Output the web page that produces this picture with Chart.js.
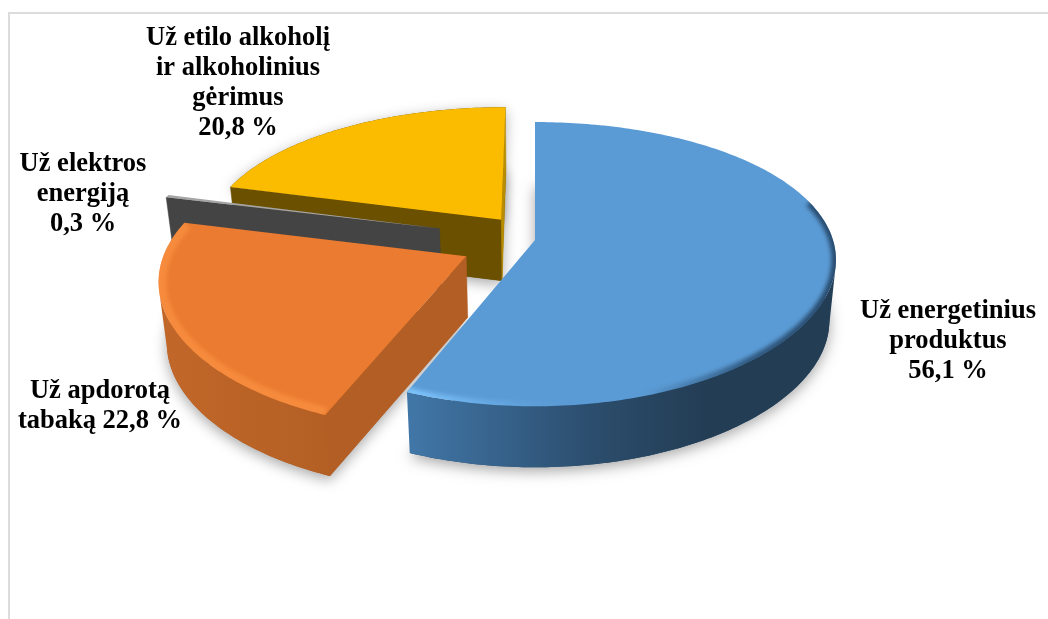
<!doctype html>
<html>
<head>
<meta charset="utf-8">
<script src="https://cdn.jsdelivr.net/npm/chart.js@4/dist/chart.umd.min.js"></script>
<style>
	html, body { margin: 0; padding: 0; background: #fff; overflow: hidden; }
	#frame { position: absolute; left: 8px; top: 12px; right: 0; bottom: 0; border-top: 2px solid #dcdcdc; border-left: 2px solid #dcdcdc; }
	#pie { position: absolute; left: 0; top: 0; }
</style>
</head>
<body>
<div id="frame"></div>
<canvas id="pie" width="1048" height="619"></canvas>
<script>
// excise shares, going clockwise from 12 o'clock
const categories = ['Už energetinius produktus', 'Už apdorotą tabaką', 'Už elektros energiją', 'Už etilo alkoholį ir alkoholinius gėrimus'];
const values = [56.1, 22.8, 0.3, 20.8];

// how far each slice is pulled out, as a part of the radius
const explode = [0, 0.255, 0.335, 0.19];

const topColors = ['#5b9bd5', '#ea7b30', '#a5a5a5', '#fbbc00'];
const wallStops = [
	[[0, '#4177a8'], [0.45, '#2b4c6b'], [0.7, '#233d54'], [1, '#233d54']],
	[[0, '#c2672a'], [0.6, '#b25f24'], [1, '#ad5a21']],
	[[0, '#444444'], [1, '#444444']],
	[[0, '#6b5000'], [1, '#6b5000']]
];
const sideColors = ['#2b4c6b', '#b25e24', '#444444', '#6b5000'];
const endWallColors = ['#2b4c6b', '#b25e24', '#444444', '#b88d00'];
const rimStops = [
	[[0, 'rgba(130,200,255,0.95)'], [0.2, 'rgba(120,190,250,0.4)'], [0.4, 'rgba(91,155,213,0)'], [0.55, 'rgba(30,60,90,0)'], [0.8, 'rgba(30,60,90,0.7)'], [1, 'rgba(30,60,90,0.85)']],
	[[0, 'rgba(255,150,70,0.6)'], [0.8, 'rgba(255,150,70,0.6)'], [1, 'rgba(255,175,110,0.8)']],
	null,
	null
];
const rimWidths = [9, 16, 0, 0];

// text rows of each label, {v} is replaced with the share
const labelRows = [
	['Už energetinius', 'produktus', '{v}'],
	['Už apdorotą', 'tabaką {v}'],
	['Už elektros', 'energiją', '{v}'],
	['Už etilo alkoholį', 'ir alkoholinius', 'gėrimus', '{v}']
];
const labelAnchors = [[948, 311.5], [100, 391.5], [83, 164], [238, 38.5]];

const RADIUS = 200;
const view = { cx: 535, cy: 240, kx: 298, ky: 138, perspX: 0.14, perspY: 0.17, depth: 61, shrink: 0.978 };

function shareText(v) {
	return v.toFixed(1).replace('.', ',') + ' %';
}

// flat pie coordinates (radius 1) to the tilted disc on screen
function project(u, v) {
	return {
		x: view.cx + view.kx * u / (1 - view.perspX * v),
		y: view.cy + view.ky * v / (1 - view.perspY * v)
	};
}

function lower(p) {
	return { x: view.cx + (p.x - view.cx) * view.shrink, y: p.y + view.depth };
}

function sliceGeometry(arc) {
	const mid = (arc.startAngle + arc.endAngle) / 2;
	const tip = arc.options.offset / arc.outerRadius;
	const ox = tip * Math.cos(mid), oy = tip * Math.sin(mid);
	const edge = [];
	const steps = Math.max(2, Math.ceil((arc.endAngle - arc.startAngle) * 60));
	for (let i = 0; i <= steps; i++) {
		const a = arc.startAngle + (arc.endAngle - arc.startAngle) * i / steps;
		const u = ox + Math.cos(a), v = oy + Math.sin(a);
		// the outer wall shows only where it turns towards the viewer
		const eye = Math.cos(a) * (0 - u) + Math.sin(a) * (1 / view.perspY - v);
		edge.push({ a: a, p: project(u, v), front: eye > 0 });
	}
	return { apex: project(ox, oy), ox: ox, oy: oy, edge: edge };
}

function polygon(ctx, pts) {
	ctx.beginPath();
	pts.forEach((p, i) => i ? ctx.lineTo(p.x, p.y) : ctx.moveTo(p.x, p.y));
	ctx.closePath();
}

function xGradient(ctx, g, stops) {
	const xs = g.edge.map(e => e.p.x).concat(g.apex.x);
	const grad = ctx.createLinearGradient(Math.min(...xs), 0, Math.max(...xs), 0);
	stops.forEach(s => grad.addColorStop(s[0], s[1]));
	return grad;
}

function radialWall(ctx, g, e, color) {
	// wall along a straight cut, skipped when it looks away
	const n = e === g.edge[0] ? -1 : 1;
	const nx = -Math.sin(e.a) * n, ny = Math.cos(e.a) * n;
	const eye = nx * (0 - g.ox) + ny * (1 / view.perspY - g.oy);
	if (eye <= 0) return;
	polygon(ctx, [g.apex, e.p, lower(e.p), lower(g.apex)]);
	ctx.fillStyle = color;
	ctx.strokeStyle = color;
	ctx.lineWidth = 0.5;
	ctx.fill();
	ctx.stroke();
}

function drawSlice(ctx, arc, i) {
	const g = sliceGeometry(arc);
	const rim = g.edge.map(e => e.p);
	const top = [g.apex].concat(rim);

	// soft ground shadow under the bottom face
	ctx.save();
	ctx.shadowColor = 'rgba(0,0,0,0.35)';
	ctx.shadowBlur = 14;
	ctx.shadowOffsetY = 4;
	ctx.fillStyle = sideColors[i];
	polygon(ctx, top.map(lower));
	ctx.fill();
	// the rear slice also throws a shadow from its top face
	if (i === 3) {
		polygon(ctx, top);
		ctx.fill();
	}
	ctx.restore();

	radialWall(ctx, g, g.edge[0], sideColors[i]);
	radialWall(ctx, g, g.edge[g.edge.length - 1], endWallColors[i]);

	// outer wall as one band over the part that faces the viewer
	const front = g.edge.filter(e => e.front).map(e => e.p);
	if (front.length > 1) {
		const wall = xGradient(ctx, g, wallStops[i]);
		polygon(ctx, front.concat(front.slice().reverse().map(lower)));
		ctx.fillStyle = wall;
		ctx.fill();
	}

	// top face
	polygon(ctx, top);
	ctx.fillStyle = arc.options.backgroundColor;
	ctx.fill();

	// bevel along the outer rim
	if (rimStops[i]) {
		ctx.save();
		polygon(ctx, top);
		ctx.clip();
		ctx.filter = 'blur(2px)';
		ctx.lineWidth = rimWidths[i];
		ctx.lineJoin = 'round';
		ctx.strokeStyle = xGradient(ctx, g, rimStops[i]);
		ctx.beginPath();
		let pen = false;
		g.edge.forEach(e => {
			if (Math.sin(e.a) < -0.3 && i === 0) { pen = false; return; }
			if (pen) ctx.lineTo(e.p.x, e.p.y); else ctx.moveTo(e.p.x, e.p.y);
			pen = true;
		});
		ctx.stroke();
		ctx.restore();
	}
}

const tiltedSlices = {
	id: 'tiltedSlices',
	beforeDatasetsDraw(chart) {
		const ctx = chart.ctx;
		const arcs = chart.getDatasetMeta(0).data;
		// paint from the back to the front
		[3, 2, 1, 0].forEach(i => drawSlice(ctx, arcs[i], i));
		return false;
	},
	afterDraw(chart) {
		const ctx = chart.ctx;
		ctx.save();
		ctx.font = 'bold 26.5px "Liberation Serif"';
		ctx.fillStyle = '#000';
		ctx.textAlign = 'center';
		ctx.textBaseline = 'middle';
		labelRows.forEach((rows, i) => {
			rows.forEach((row, r) => {
				ctx.fillText(row.replace('{v}', shareText(values[i])), labelAnchors[i][0], labelAnchors[i][1] + r * 30);
			});
		});
		ctx.restore();
	}
};

new Chart(document.getElementById('pie'), {
	type: 'pie',
	data: {
		labels: categories,
		datasets: [{
			data: values,
			backgroundColor: topColors,
			borderWidth: 0,
			radius: RADIUS,
			offset: explode.map(e => e * RADIUS)
		}]
	},
	options: {
		responsive: false,
		animation: false,
		plugins: { legend: { display: false }, tooltip: { enabled: false } }
	},
	plugins: [tiltedSlices]
});
</script>
</body>
</html>
